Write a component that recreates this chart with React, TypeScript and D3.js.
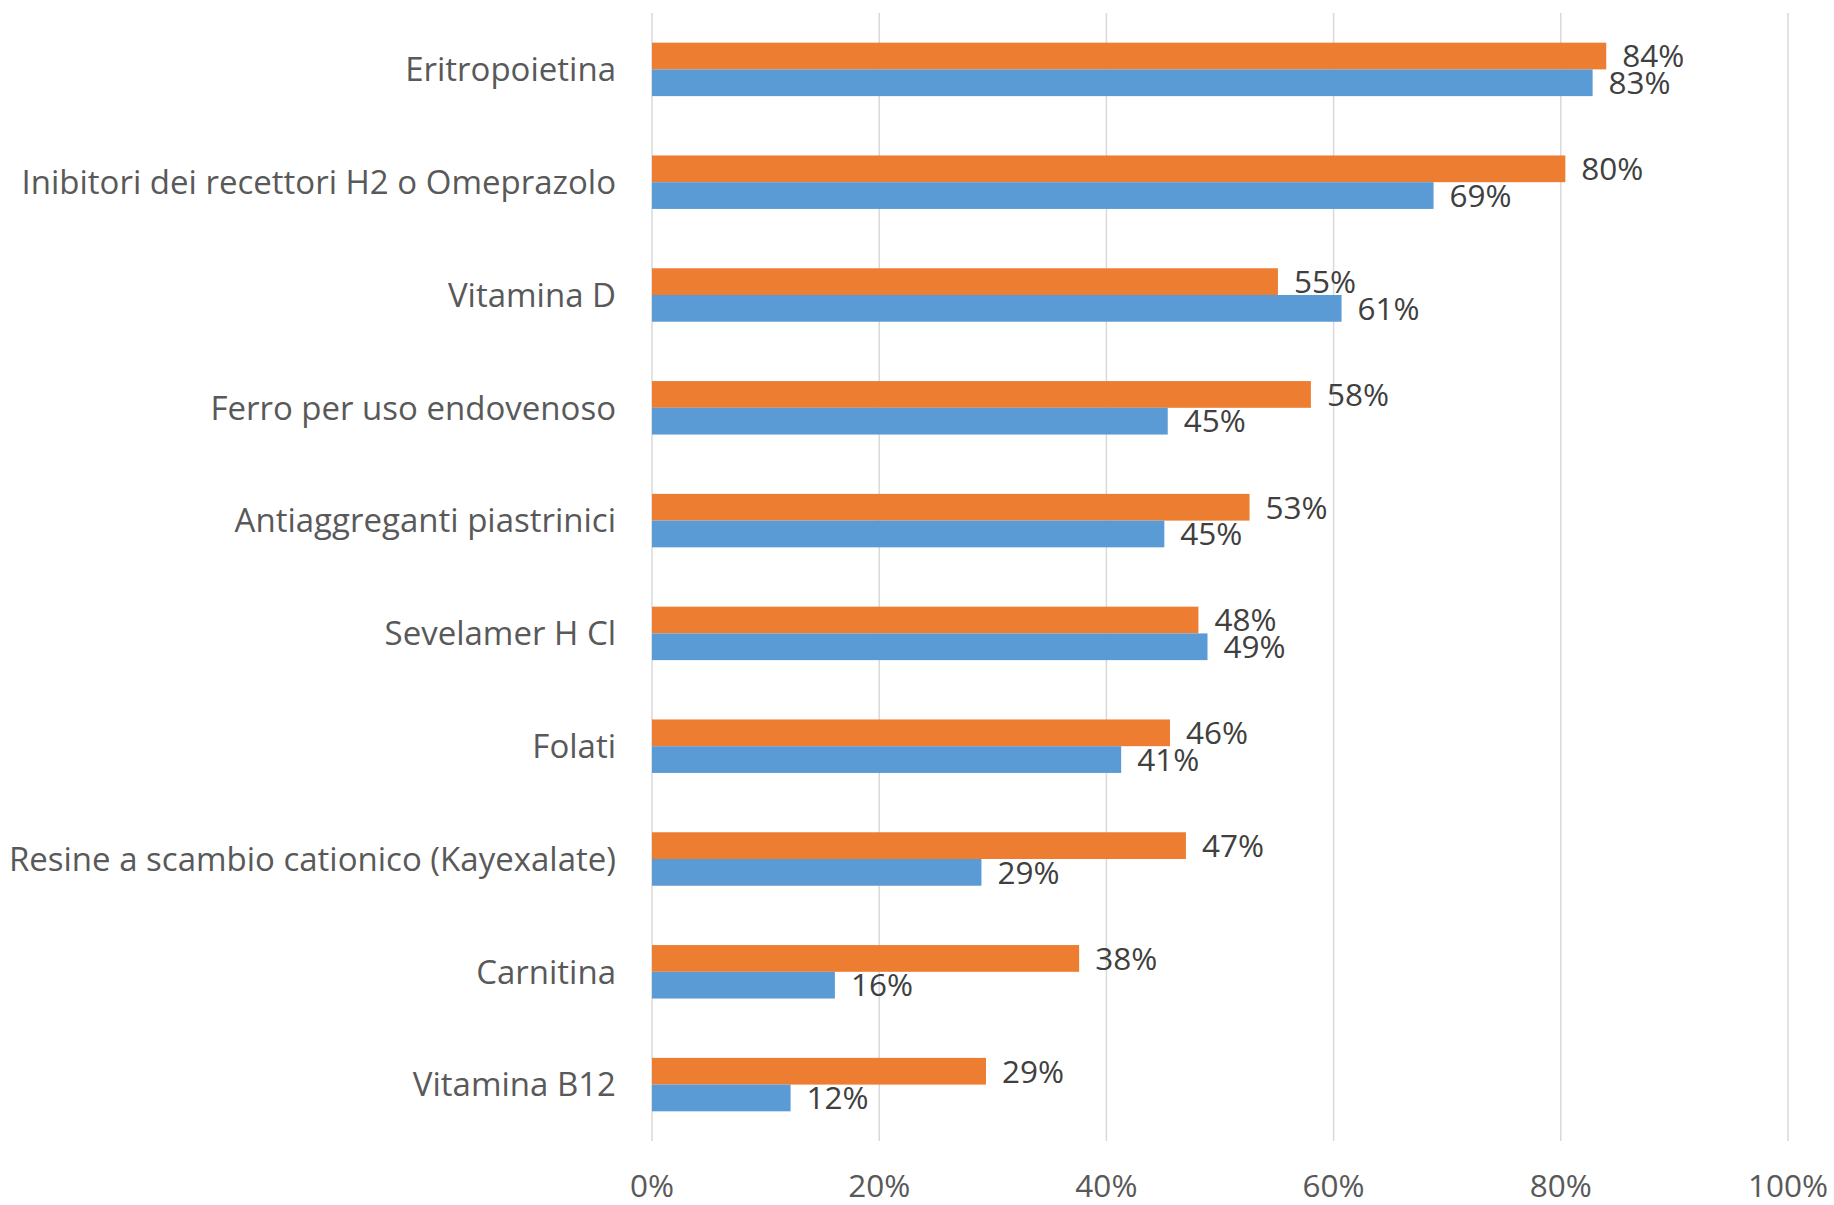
import { useMemo } from "react";
import * as d3 from "d3";

// categories from top to bottom
const categories = [
  "Eritropoietina",
  "Inibitori dei recettori H2 o Omeprazolo",
  "Vitamina D",
  "Ferro per uso endovenoso",
  "Antiaggreganti piastrinici",
  "Sevelamer H Cl",
  "Folati",
  "Resine a scambio cationico (Kayexalate)",
  "Carnitina",
  "Vitamina B12",
];

// orange series (top bar of each pair)
const seriesOrange = [0.84, 0.804, 0.551, 0.58, 0.526, 0.481, 0.456, 0.47, 0.376, 0.294];
// blue series (bottom bar of each pair)
const seriesBlue = [0.828, 0.688, 0.607, 0.454, 0.451, 0.489, 0.413, 0.29, 0.161, 0.122];

const xTicks = [0, 0.2, 0.4, 0.6, 0.8, 1];

const ORANGE = "#ED7D31";
const BLUE = "#5B9BD5";
const FONT = "'Open Sans', 'Noto Sans', sans-serif";

function App() {
  const width = 1834;
  const height = 1205;
  const left = 652;
  const right = 1788;
  const top = 13;
  const bottom = 1141;

  const x = d3.scaleLinear().domain([0, 1]).range([left, right]);
  const y = d3.scaleBand().domain(categories).range([top, bottom]).padding(0);
  const y1 = d3
    .scaleBand()
    .domain(["orange", "blue"])
    .range([0, y.bandwidth()])
    .paddingInner(0)
    .paddingOuter(1.11);

  const fmt = d3.format(".0%");

  const rows = useMemo(
    () =>
      categories.map((c, i) => ({
        name: c,
        orange: seriesOrange[i],
        blue: seriesBlue[i],
      })),
    []
  );

  const fs = 31.5;
  const catFs = 33;

  return (
    <div style={{ position: "absolute", left: 0, top: 0 }}>
      <svg width={width} height={height} style={{ display: "block", background: "#fff" }}>
        {/* gridlines */}
        {xTicks.map((t) => (
          <line
            key={"g" + t}
            x1={x(t)}
            x2={x(t)}
            y1={top}
            y2={bottom}
            stroke="#D9D9D9"
            strokeWidth={1.5}
          />
        ))}
        {/* bars */}
        {rows.map((d) => (
          <g key={d.name} transform={`translate(0,${y(d.name)})`}>
            <rect
              x={x(0)}
              y={y1("orange")}
              width={x(d.orange) - x(0)}
              height={y1.bandwidth()}
              fill={ORANGE}
            />
            <rect
              x={x(0)}
              y={y1("blue")}
              width={x(d.blue) - x(0)}
              height={y1.bandwidth()}
              fill={BLUE}
            />
            <text
              x={x(d.orange) + 16}
              y={(y1("orange") ?? 0) + y1.bandwidth() / 2}
              dy="0.36em"
              fontFamily={FONT}
              fontSize={fs}
              fill="#404040"
            >
              {fmt(d.orange)}
            </text>
            <text
              x={x(d.blue) + 16}
              y={(y1("blue") ?? 0) + y1.bandwidth() / 2}
              dy="0.36em"
              fontFamily={FONT}
              fontSize={fs}
              fill="#404040"
            >
              {fmt(d.blue)}
            </text>
            <text
              x={616}
              y={y.bandwidth() / 2}
              dy="0.36em"
              textAnchor="end"
              fontFamily={FONT}
              fontSize={catFs}
              fill="#595959"
            >
              {d.name}
            </text>
          </g>
        ))}
        {/* x axis labels */}
        {xTicks.map((t) => (
          <text
            key={"t" + t}
            x={x(t)}
            y={1186}
            dy="0.36em"
            textAnchor="middle"
            fontFamily={FONT}
            fontSize={fs}
            fill="#595959"
          >
            {fmt(t)}
          </text>
        ))}
      </svg>
    </div>
  );
}

export default App;
